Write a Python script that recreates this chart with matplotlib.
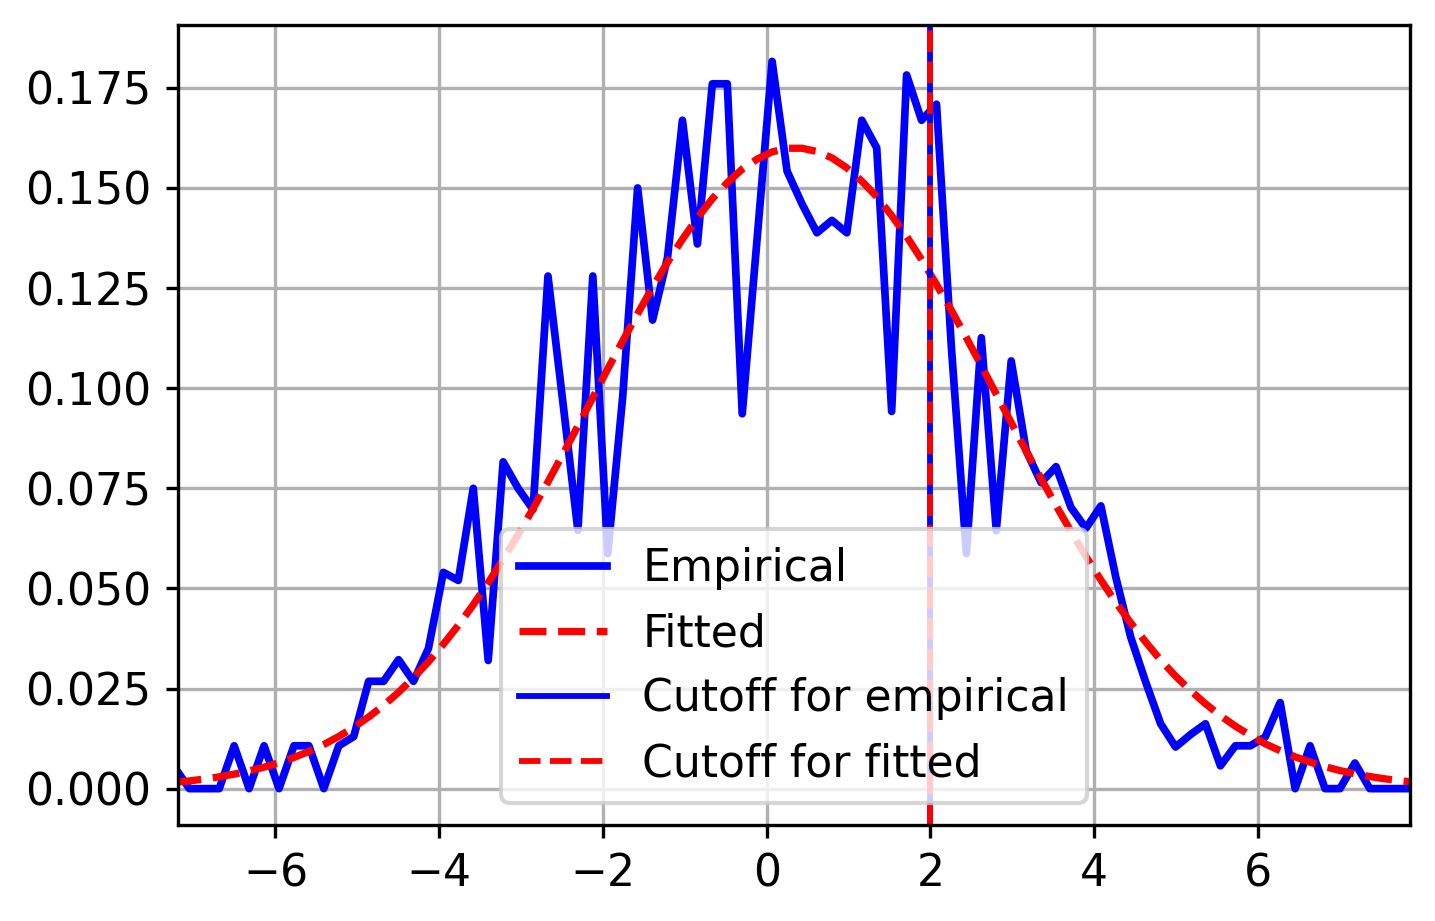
import numpy as np
import matplotlib
matplotlib.use("Agg")
import matplotlib.pyplot as plt

# empirical density per bin
empirical = [0.0054, 0, 0, 0, 0.0107, 0, 0.0107, 0, 0.0107, 0.0107,
             0, 0.0107, 0.013, 0.0268, 0.0268, 0.0322, 0.0268, 0.035, 0.054, 0.052,
             0.075, 0.032, 0.0816, 0.075, 0.0697, 0.128, 0.0964, 0.0645, 0.128, 0.0587,
             0.0978, 0.150, 0.117, 0.1326, 0.1669, 0.136, 0.176, 0.176, 0.0936, 0.1375,
             0.1816, 0.1542, 0.146, 0.1388, 0.1419, 0.1388, 0.1669, 0.160, 0.0942, 0.1782,
             0.1669, 0.1709, 0.110, 0.0587, 0.1126, 0.0644, 0.1068, 0.0844, 0.0764, 0.0804,
             0.0702, 0.065, 0.0706, 0.0528, 0.0378, 0.0266, 0.0162, 0.0104, 0.0135, 0.0162,
             0.0057, 0.0107, 0.0107, 0.0129, 0.0215, 0, 0.0107, 0, 0, 0.0064,
             0, 0, 0, 0]

# fitted normal density at the same bin centres
fitted = [0.00155, 0.00193, 0.00239, 0.00295, 0.00362, 0.00442, 0.00536, 0.00647, 0.00778, 0.00928,
          0.01102, 0.01303, 0.01531, 0.01789, 0.0208, 0.02405, 0.0277, 0.03166, 0.03606, 0.04078,
          0.04592, 0.05142, 0.0573, 0.06344, 0.0699, 0.07661, 0.08352, 0.09054, 0.09766, 0.1048,
          0.1118, 0.1186, 0.1252, 0.1314, 0.1372, 0.1425, 0.1473, 0.1513, 0.1547, 0.1572,
          0.159, 0.1599, 0.1599, 0.1591, 0.1575, 0.155, 0.1517, 0.1478, 0.1431, 0.1379,
          0.1321, 0.1259, 0.1194, 0.1126, 0.1056, 0.0985, 0.0914, 0.0843, 0.0774, 0.0707,
          0.0642, 0.058, 0.0521, 0.0465, 0.0414, 0.0366, 0.0321, 0.0281, 0.0245, 0.0212,
          0.0182, 0.0156, 0.0133, 0.0112, 0.00947, 0.00794, 0.00661, 0.00548, 0.00451, 0.00371,
          0.00302, 0.00245, 0.00198, 0.00159]

# bin centres run from about -7.23 to 7.91
x = np.linspace(-7.234, 7.913, len(empirical))

cutoff_empirical = 2.0
cutoff_fitted = 1.99

fig = plt.figure(figsize=(1435 / 300, 921 / 300), dpi=300)
ax = fig.add_axes([178 / 1435, 1 - 825 / 921, 1232 / 1435, 800 / 921])

ax.plot(x, empirical, color='blue', lw=1.85, label='Empirical')
ax.plot(x, fitted, 'r--', lw=1.75, label='Fitted')
ax.axvline(cutoff_empirical, color='blue', lw=1.4, label='Cutoff for empirical')
ax.axvline(cutoff_fitted, color='red', ls='--', lw=1.4, label='Cutoff for fitted')

ax.set_xlim(-7.19, 7.856)
ax.grid(True)
ax.tick_params(labelsize=10.6, length=3.0)
ax.legend(loc='lower center', fontsize=10.6)

fig.savefig('out.png', dpi=300)
